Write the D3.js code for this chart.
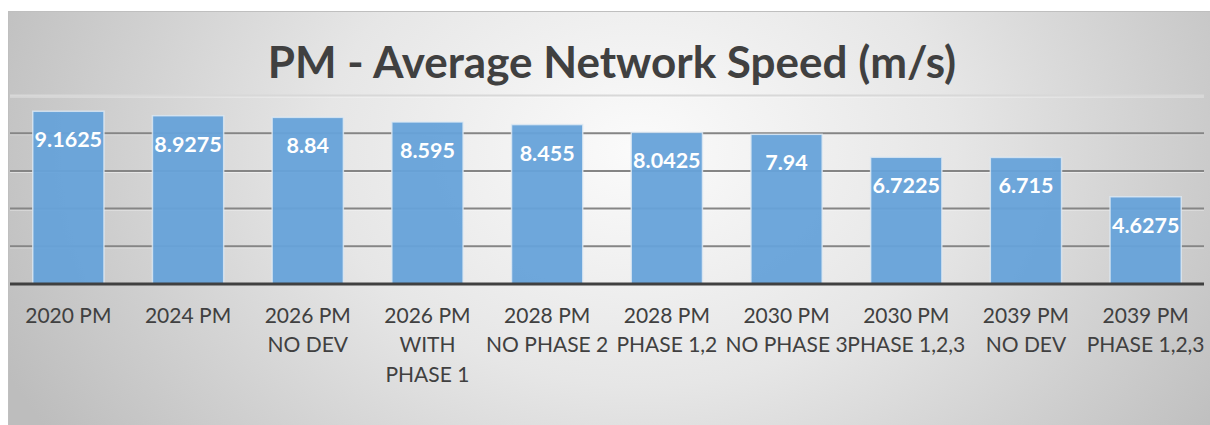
<!DOCTYPE html>
<html>
<head>
<meta charset="utf-8">
<script src="https://cdn.jsdelivr.net/npm/d3@7"></script>
<style>
  html, body { margin: 0; padding: 0; background: #ffffff; }
  svg { display: block; }
</style>
</head>
<body>
<svg id="chart" width="1210" height="425"></svg>
<script>
// Scenario names (line breaks as drawn under the axis)
const categories = [
  "2020 PM",
  "2024 PM",
  "2026 PM\nNO DEV",
  "2026 PM\nWITH\nPHASE 1",
  "2028 PM\nNO PHASE 2",
  "2028 PM\nPHASE 1,2",
  "2030 PM\nNO PHASE 3",
  "2030 PM\nPHASE 1,2,3",
  "2039 PM\nNO DEV",
  "2039 PM\nPHASE 1,2,3"
];
// Average network speed, m/s
const speeds = [9.1625, 8.9275, 8.84, 8.595, 8.455, 8.0425, 7.94, 6.7225, 6.715, 4.6275];
// Gridline values
const gridTicks = [2, 4, 6, 8, 10];
const title = "PM - Average Network Speed (m/s)";

const W = 1210, H = 425;
const svg = d3.select("#chart");
const font = "Lato, 'Open Sans', sans-serif";

// Chart area background: soft radial gradient
const defs = svg.append("defs");
const grad = defs.append("radialGradient")
  .attr("id", "bg")
  .attr("gradientUnits", "userSpaceOnUse")
  .attr("cx", 640).attr("cy", 150).attr("r", 700)
  .attr("gradientTransform", "translate(640,150) scale(1,0.75) translate(-640,-150)");
grad.append("stop").attr("offset", "0").attr("stop-color", "#fbfbfb");
grad.append("stop").attr("offset", "0.45").attr("stop-color", "#e6e6e6");
grad.append("stop").attr("offset", "1").attr("stop-color", "#bdbdbd");

svg.append("rect")
  .attr("x", 8.5).attr("y", 11.5)
  .attr("width", W).attr("height", H)
  .attr("fill", "url(#bg)")
  .attr("stroke", "#bfbfbf")
  .attr("stroke-width", 1);

// Scales
const x = d3.scaleBand()
  .domain(d3.range(categories.length))
  .range([10, 1204])
  .paddingInner(0.405)
  .paddingOuter(0.19);

const y = d3.scaleLinear()
  .domain([0, 10])
  .range([284, 95.5]);

// Gridlines
const grid = svg.append("g");
grid.selectAll("line.shadow")
  .data(gridTicks)
  .join("line")
  .attr("class", "shadow")
  .attr("x1", 10).attr("x2", 1204)
  .attr("y1", d => y(d) + 1.5).attr("y2", d => y(d) + 1.5)
  .attr("stroke", "#ffffff")
  .attr("stroke-opacity", 0.5)
  .attr("stroke-width", 1);
grid.selectAll("line.grid")
  .data(gridTicks)
  .join("line")
  .attr("class", "grid")
  .attr("x1", 10).attr("x2", 1204)
  .attr("y1", d => y(d)).attr("y2", d => y(d))
  .attr("stroke", d => d === 10 ? "#d8d8d8" : "#858585")
  .attr("stroke-width", 2);

// Bars
svg.append("g")
  .selectAll("rect")
  .data(speeds)
  .join("rect")
  .attr("x", (d, i) => x(i))
  .attr("y", d => y(d))
  .attr("width", x.bandwidth())
  .attr("height", d => y(0) - y(d))
  .attr("fill", "#66a2d9")
  .attr("fill-opacity", 0.95)
  .attr("stroke", "#dfeaf4")
  .attr("stroke-opacity", 0.8)
  .attr("stroke-width", 1.5);

// Value labels inside the top of each bar
svg.append("g")
  .selectAll("text")
  .data(speeds)
  .join("text")
  .attr("x", (d, i) => x(i) + x.bandwidth() / 2)
  .attr("y", d => y(d) + 36)
  .attr("text-anchor", "middle")
  .attr("font-family", font)
  .attr("font-weight", "bold")
  .attr("font-size", 21.5)
  .attr("fill", "#ffffff")
  .text(d => String(d));

// Category axis
const xAxis = svg.append("g")
  .attr("transform", `translate(0,${y(0)})`)
  .call(d3.axisBottom(x).tickSize(0).tickFormat(""));
xAxis.select(".domain")
  .attr("d", "M10,0H1204")
  .attr("stroke", "#404040")
  .attr("stroke-width", 3);

const catLabels = svg.append("g")
  .selectAll("text")
  .data(categories)
  .join("text")
  .attr("x", (d, i) => x(i) + x.bandwidth() / 2)
  .attr("y", 323)
  .attr("text-anchor", "middle")
  .attr("font-family", font)
  .attr("font-size", 21)
  .attr("fill", "#404040");
catLabels.each(function(d) {
  const t = d3.select(this);
  const cx = t.attr("x");
  d.split("\n").forEach((line, k) => {
    t.append("tspan")
      .attr("x", cx)
      .attr("dy", k === 0 ? 0 : 29.3)
      .text(line);
  });
});

// Title
svg.append("text")
  .attr("x", 612)
  .attr("y", 78)
  .attr("text-anchor", "middle")
  .attr("font-family", font)
  .attr("font-weight", "bold")
  .attr("font-size", 44)
  .attr("fill", "#404040")
  .text(title);
</script>
</body>
</html>
